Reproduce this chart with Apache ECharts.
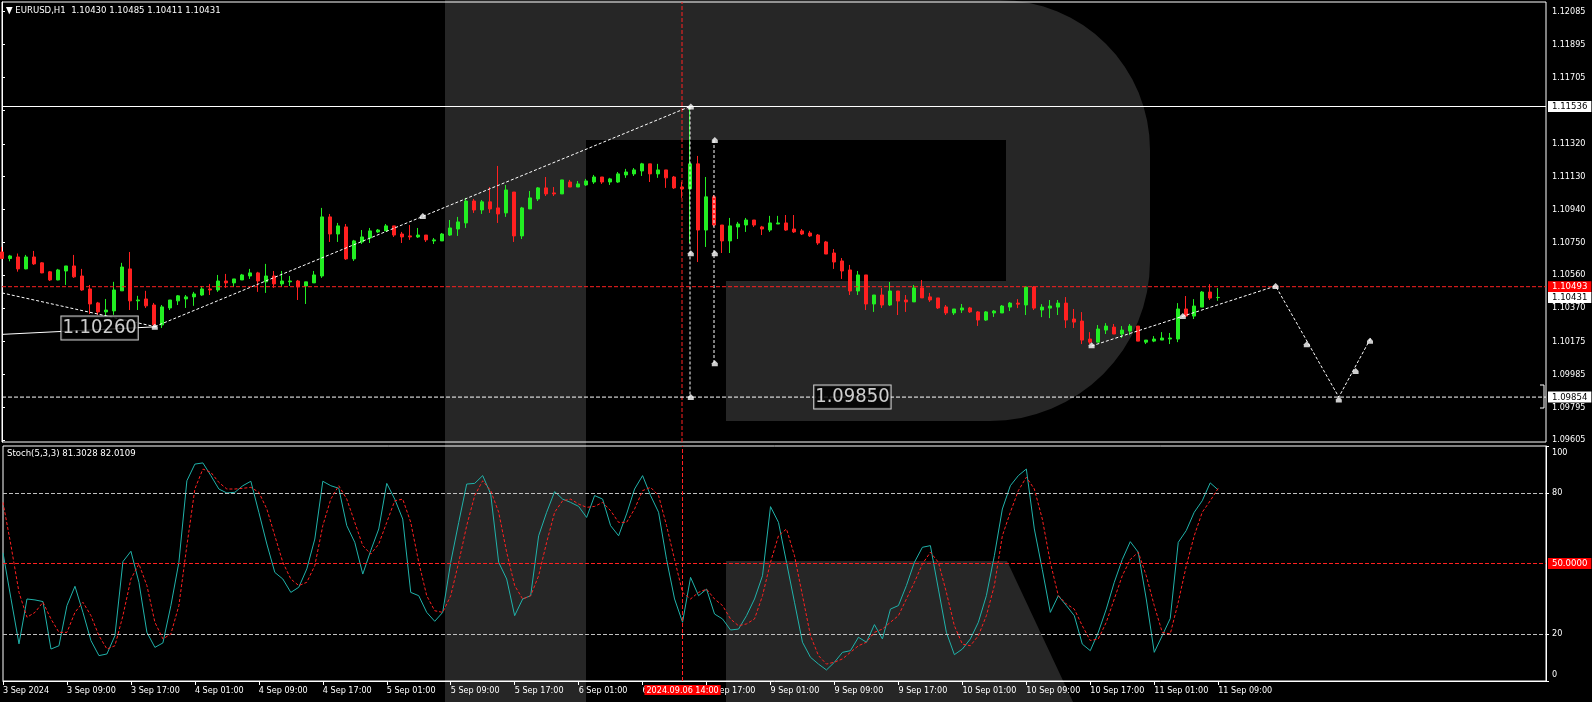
<!DOCTYPE html>
<html><head><meta charset="utf-8">
<script src="https://cdn.jsdelivr.net/npm/echarts@6/dist/echarts.min.js"></script>
<style>html,body{margin:0;padding:0;background:#000;}#c{width:1592px;height:702px;}</style>
</head><body><div id="c"></div>
<script>
const FONT = "'DejaVu Sans Condensed','Liberation Sans',sans-serif";
const FS = 9;
const dayNames = ['3 Sep','4 Sep','5 Sep','6 Sep','9 Sep','10 Sep','11 Sep','12 Sep','13 Sep'];
const categories = [];
dayNames.forEach((d, k) => { for (let h = (k === 0 ? 1 : 0); h < 24; h++) categories.push(d + ' ' + String(h).padStart(2, '0') + ':00'); });
categories.length = 194;
const lastLabelIndex = 152;
const lastSlot = categories.length - 1;

const open = [
1.10694,1.10656,1.10665,1.10596,1.10665,1.10631,1.10579,1.10532,1.10584,1.10613,
1.10555,1.10480,1.10399,1.10347,1.10353,1.10469,1.10596,1.10411,1.10422,1.10387,
1.10272,1.10370,1.10411,1.10422,1.10434,1.10445,1.10480,1.10474,1.10526,1.10515,
1.10532,1.10555,1.10573,1.10521,1.10555,1.10509,1.10521,1.10526,1.10497,1.10515,
1.10555,1.10897,1.10798,1.10839,1.10654,1.10752,1.10775,1.10810,1.10816,1.10845,
1.10798,1.10787,1.10781,1.10792,1.10758,1.10758,1.10792,1.10827,1.10862,1.10989,
1.10937,1.10984,1.10949,1.10920,1.11041,1.10787,1.10943,1.11001,1.11065,1.11036,
1.11030,1.11099,1.11070,1.11082,1.11099,1.11128,1.11099,1.11099,1.11140,1.11146,
1.11163,1.11204,1.11146,1.11169,1.11128,1.11070,1.11059,1.11204,1.10821,1.11013,
1.10850,1.10758,1.10839,1.10850,1.10879,1.10839,1.10821,1.10856,1.10862,1.10827,
1.10816,1.10804,1.10792,1.10752,1.10688,1.10642,1.10590,1.10468,1.10561,1.10393,
1.10445,1.10387,1.10468,1.10416,1.10405,1.10486,1.10434,1.10428,1.10376,1.10341,
1.10358,1.10370,1.10347,1.10300,1.10341,1.10341,1.10375,1.10398,1.10387,1.10491,
1.10358,1.10369,1.10375,1.10398,1.10306,1.10294,1.10190,1.10172,1.10242,1.10259,
1.10219,1.10236,1.10265,1.10172,1.10178,1.10184,1.10190,1.10190,1.10364,1.10323,
1.10375,1.10462,1.10430];
const high = [
1.10723,1.10677,1.10685,1.10677,1.10700,1.10635,1.10584,1.10596,1.10613,1.10677,
1.10596,1.10503,1.10405,1.10422,1.10521,1.10631,1.10694,1.10440,1.10469,1.10399,
1.10387,1.10416,1.10445,1.10445,1.10463,1.10497,1.10509,1.10561,1.10567,1.10538,
1.10567,1.10596,1.10579,1.10625,1.10584,1.10584,1.10555,1.10532,1.10521,1.10584,
1.10949,1.10914,1.10862,1.10856,1.10764,1.10821,1.10833,1.10827,1.10856,1.10845,
1.10810,1.10850,1.10833,1.10792,1.10775,1.10804,1.10879,1.10897,1.11007,1.11001,
1.10995,1.11070,1.11192,1.11082,1.11041,1.10955,1.11047,1.11070,1.11128,1.11070,
1.11111,1.11111,1.11105,1.11117,1.11140,1.11128,1.11123,1.11157,1.11175,1.11180,
1.11210,1.11204,1.11204,1.11169,1.11134,1.11099,1.11536,1.11250,1.11128,1.11024,
1.10850,1.10891,1.10868,1.10891,1.10879,1.10845,1.10903,1.10903,1.10908,1.10908,
1.10827,1.10816,1.10798,1.10758,1.10711,1.10659,1.10619,1.10584,1.10561,1.10445,
1.10486,1.10520,1.10468,1.10445,1.10503,1.10532,1.10457,1.10428,1.10387,1.10364,
1.10393,1.10376,1.10352,1.10352,1.10358,1.10387,1.10404,1.10421,1.10497,1.10497,
1.10392,1.10416,1.10416,1.10433,1.10364,1.10346,1.10230,1.10271,1.10282,1.10277,
1.10265,1.10277,1.10265,1.10184,1.10207,1.10230,1.10225,1.10398,1.10439,1.10421,
1.10468,1.10508,1.10485];
const low = [
1.10656,1.10640,1.10580,1.10594,1.10619,1.10571,1.10526,1.10530,1.10503,1.10544,
1.10469,1.10335,1.10330,1.10324,1.10330,1.10469,1.10358,1.10358,1.10370,1.10266,
1.10254,1.10358,1.10387,1.10370,1.10382,1.10440,1.10445,1.10463,1.10486,1.10492,
1.10532,1.10538,1.10463,1.10457,1.10486,1.10492,1.10497,1.10416,1.10393,1.10515,
1.10544,1.10752,1.10752,1.10648,1.10642,1.10740,1.10746,1.10804,1.10816,1.10781,
1.10746,1.10764,1.10775,1.10752,1.10740,1.10758,1.10787,1.10787,1.10833,1.10920,
1.10914,1.10920,1.10862,1.10897,1.10752,1.10769,1.10943,1.10989,1.11018,1.11018,
1.11030,1.11070,1.11070,1.11076,1.11088,1.11088,1.11082,1.11094,1.11123,1.11134,
1.11134,1.11099,1.11123,1.11065,1.11059,1.11007,1.10744,1.10636,1.10723,1.10840,
1.10688,1.10688,1.10769,1.10810,1.10839,1.10792,1.10810,1.10856,1.10816,1.10804,
1.10792,1.10781,1.10735,1.10682,1.10596,1.10538,1.10445,1.10445,1.10358,1.10347,
1.10370,1.10381,1.10329,1.10347,1.10405,1.10428,1.10405,1.10364,1.10329,1.10329,
1.10341,1.10341,1.10266,1.10295,1.10318,1.10341,1.10352,1.10369,1.10329,1.10358,
1.10317,1.10311,1.10329,1.10254,1.10254,1.10161,1.10161,1.10172,1.10219,1.10219,
1.10196,1.10213,1.10178,1.10161,1.10172,1.10184,1.10161,1.10172,1.10317,1.10306,
1.10375,1.10416,1.10411];
const close = [
1.10656,1.10671,1.10596,1.10665,1.10625,1.10573,1.10532,1.10590,1.10613,1.10550,
1.10474,1.10393,1.10347,1.10358,1.10474,1.10607,1.10411,1.10416,1.10382,1.10272,
1.10376,1.10416,1.10440,1.10434,1.10451,1.10480,1.10474,1.10526,1.10515,1.10538,
1.10561,1.10573,1.10526,1.10555,1.10509,1.10526,1.10526,1.10492,1.10521,1.10561,
1.10897,1.10798,1.10845,1.10654,1.10758,1.10781,1.10816,1.10821,1.10845,1.10792,
1.10781,1.10781,1.10792,1.10764,1.10764,1.10798,1.10833,1.10868,1.10989,1.10937,
1.10984,1.10943,1.10914,1.11053,1.10787,1.10949,1.11007,1.11065,1.11030,1.11030,
1.11111,1.11070,1.11088,1.11105,1.11128,1.11099,1.11117,1.11146,1.11157,1.11169,
1.11204,1.11146,1.11169,1.11123,1.11065,1.11059,1.11204,1.10821,1.11013,1.10850,
1.10758,1.10845,1.10856,1.10879,1.10850,1.10827,1.10862,1.10862,1.10821,1.10810,
1.10798,1.10787,1.10746,1.10682,1.10636,1.10584,1.10468,1.10561,1.10393,1.10445,
1.10387,1.10468,1.10410,1.10405,1.10486,1.10428,1.10416,1.10370,1.10341,1.10364,
1.10370,1.10347,1.10300,1.10347,1.10352,1.10381,1.10398,1.10392,1.10491,1.10369,
1.10375,1.10381,1.10398,1.10300,1.10288,1.10184,1.10172,1.10248,1.10265,1.10219,
1.10242,1.10265,1.10178,1.10184,1.10190,1.10196,1.10196,1.10364,1.10323,1.10381,
1.10462,1.10427,1.10431];

const stochK = [
54.5,35.0,15.8,34.9,34.5,33.8,13.6,15.0,32.1,40.3,
29.2,17.2,10.8,11.5,19.3,50.8,55.2,42.0,20.7,14.3,
16.2,32.1,50.5,85.2,92.3,92.8,87.4,81.7,80.0,80.3,
83.1,85.0,71.8,58.3,46.2,43.4,37.7,39.9,47.7,60.4,
85.0,83.1,82.0,66.1,59.0,45.5,55.5,64.7,84.1,77.4,
68.9,37.7,36.3,29.2,25.4,29.2,50.5,67.5,83.8,84.1,
87.4,79.6,50.5,43.4,27.8,34.9,36.3,61.8,71.8,80.6,
77.4,76.0,74.3,69.6,78.9,77.4,66.1,61.8,71.1,81.7,
87.4,78.9,71.8,51.7,34.9,25.0,44.1,36.3,39.1,28.5,
26.4,21.7,22.1,27.8,34.9,44.8,74.2,67.5,50.5,33.5,
16.5,10.1,7.2,4.7,8.0,12.2,12.9,18.6,16.5,24.0,
17.9,30.6,32.1,40.6,50.5,56.9,57.6,39.1,20.7,11.2,
13.6,17.9,25.0,36.3,53.3,73.2,83.1,87.4,90.2,64.7,
47.4,29.2,36.3,32.1,27.8,15.7,12.9,20.7,30.6,42.0,
51.7,59.3,54.8,34.9,12.2,19.3,26.6,59.0,64.0,71.8,
76.7,84.3,81.3];
const stochD = [
76.0,57.6,37.7,27.1,29.2,33.5,26.4,20.7,20.7,29.2,
33.5,27.8,19.3,13.6,15.0,27.8,43.4,49.8,40.6,25.0,
17.9,20.0,32.1,57.6,81.7,90.2,88.8,84.5,81.7,81.7,
82.0,82.4,80.3,73.2,61.8,50.5,43.4,40.6,42.0,49.1,
66.1,77.4,83.1,77.4,67.5,57.6,54.0,58.3,67.5,76.7,
77.4,67.5,50.5,36.3,29.9,29.2,36.3,50.5,66.1,78.9,
85.2,81.0,71.8,54.8,40.6,34.9,36.3,44.8,59.0,71.8,
76.7,77.4,75.3,73.9,74.3,76.0,72.5,67.5,67.5,73.2,
81.0,82.4,78.9,66.1,51.7,37.7,34.9,37.7,39.1,34.9,
32.1,26.4,23.5,24.3,26.4,36.3,50.5,61.8,64.7,53.3,
36.3,19.3,10.8,7.2,8.0,9.4,12.2,15.0,16.5,20.7,
22.1,25.0,27.8,34.9,42.0,49.8,54.8,50.5,37.7,23.5,
15.7,15.0,19.3,27.8,40.6,61.8,71.8,81.0,86.7,81.7,
68.9,50.5,36.3,32.8,30.6,23.5,17.2,17.9,25.0,34.9,
44.8,51.7,54.8,44.8,32.1,20.7,20.0,33.5,48.9,61.8,
71.8,76.7,82.0];

const priceTicks = [1.12085,1.11895,1.11705,1.11515,1.11320,1.11130,1.10940,1.10750,1.10560,1.10370,1.10175,1.09985,1.09795,1.09605];
const stochTicks = [0, 20, 80, 100];
const priceMin = 1.09594, priceMax = 1.12141;

// drawn analysis objects (bar position, price)
const trendLeft = [[0, 1.10457], [19.1, 1.10262]];
const trendRise = [[19.1, 1.10262], [86, 1.11536]];
const vertical1 = [[86, 1.11536], [86, 1.09854]];
const vertical2 = [[89, 1.11342], [89, 1.10050]];
const forecast = [[136.2, 1.10150], [159.2, 1.10497], [167.1, 1.09854], [171.1, 1.10196]];
const leaderLine = [[0, 1.10217], [19.3, 1.10261]];
const arrowMarks = [[19.1,1.10261],[52.6,1.10902],[86.1,1.11536],[86.1,1.10686],[86.1,1.09854],[89.1,1.11342],[89.1,1.10686],[89.1,1.10050],
  [136.2,1.10154],[147.6,1.10323],[159.2,1.10497],[163.1,1.10160],[167.1,1.09840],[169.2,1.10005],[171.0,1.10180]];
const priceTexts = [{value:[12.2, 1.10254], name:'1.10260'}, {value:[106.3, 1.09854], name:'1.09850'}];
const levelHigh = 1.11536, crossPrice = 1.10493, bidPrice = 1.10431, levelLow = 1.09854;
const crossIndex = 85;

const candleData = open.map((o, i) => [o, close[i], low[i], high[i]]);

function arcPts(cx, cy, r, a0, a1, n) {
  const p = [];
  for (let k = 0; k <= n; k++) { const a = (a0 + (a1 - a0) * k / n) * Math.PI / 180; p.push([cx + r * Math.cos(a), cy + r * Math.sin(a)]); }
  return p;
}
const GRAY = '#262626';
const bowl = [[586,0],[1000,0]].concat(arcPts(1000,150,150,-90,0,16)).concat(arcPts(990,261,160,0,90,16))
  .concat([[726,421],[726,281],[1006,281],[1006,140],[586,140]]);

const chart = echarts.init(document.getElementById('c'), null, {renderer: 'canvas'});
const dashW = {color: '#fff', width: 1, type: [3, 2]};
const lineS = (data, style, extra) => Object.assign({type:'line', xAxisIndex:2, yAxisIndex:0, data, showSymbol:false, symbol:'none', lineStyle:style, silent:true, z:4}, extra || {});
const endBox = (txt, bg, fg) => ({show:true, formatter:txt, color:fg, backgroundColor:bg, padding:[1,4,0,4], fontSize:9.5, fontFamily:FONT, distance:2});
const level = (v, style, txt, bg, fg) => lineS([[0, v], [lastSlot, v]], style, txt ? {endLabel: endBox(txt, bg, fg), z:6} : {});

chart.setOption({
  animation: false,
  backgroundColor: '#000',
  graphic: [
    {type:'rect', z:-5, silent:true, shape:{x:445, y:0, width:141, height:702}, style:{fill:GRAY}},
    {type:'polygon', z:-5, silent:true, shape:{points:bowl}, style:{fill:GRAY}},
    {type:'polygon', z:-5, silent:true, shape:{points:[[726,561],[1007,561],[1073,702],[726,702]]}, style:{fill:GRAY}},
    {type:'text', z:50, x:6, y:11, style:{text:'\u25BC EURUSD,H1  1.10430 1.10485 1.10411 1.10431', fill:'#fff', font:'9.5px ' + FONT, verticalAlign:'middle'}},
    {type:'text', z:50, x:7, y:454, style:{text:'Stoch(5,3,3) 81.3028 82.0109', fill:'#fff', font:'9.5px ' + FONT, verticalAlign:'middle'}},
    {type:'polyline', z:50, silent:true, shape:{points:[[1540,385],[1544,385],[1544,408],[1540,408]]}, style:{stroke:'#fff', lineWidth:1, fill:null}}
  ],
  grid: [
    {left:2, top:2, width:1544, height:440, show:true, borderColor:'#fff', borderWidth:1, backgroundColor:'rgba(0,0,0,0)'},
    {left:2, top:446, width:1544, height:235, show:true, borderColor:'#fff', borderWidth:1, backgroundColor:'rgba(0,0,0,0)'}
  ],
  xAxis: [
    {type:'category', gridIndex:0, data:categories, boundaryGap:false, show:false},
    {type:'category', gridIndex:1, data:categories, boundaryGap:false,
      axisLine:{show:true, lineStyle:{color:'#fff'}},
      axisTick:{show:true, length:4, lineStyle:{color:'#fff'}, interval:(i) => i % 8 === 0 && i <= lastLabelIndex},
      axisLabel:{show:true, color:'#fff', fontSize:FS, fontFamily:FONT, align:'left', margin:5, hideOverlap:false,
        interval:(i) => i % 8 === 0 && i <= lastLabelIndex,
        formatter:(v, i) => i === 0 ? '3 Sep 2024' : v},
      splitLine:{show:false}},
    {type:'value', gridIndex:0, min:0, max:lastSlot, show:false}
  ],
  yAxis: [
    {type:'value', gridIndex:0, position:'right', min:priceMin, max:priceMax,
      axisLine:{show:true, lineStyle:{color:'#fff'}},
      axisTick:{show:true, length:3, lineStyle:{color:'#fff'}, customValues:priceTicks},
      axisLabel:{show:true, color:'#fff', fontSize:FS, fontFamily:FONT, margin:6, customValues:priceTicks, formatter:(v) => v.toFixed(5)},
      splitLine:{show:false}},
    {type:'value', gridIndex:1, position:'right', min:0, max:100,
      axisLine:{show:true, lineStyle:{color:'#fff'}},
      axisTick:{show:true, length:3, lineStyle:{color:'#fff'}, customValues:stochTicks},
      axisLabel:{show:true, color:'#fff', fontSize:FS, fontFamily:FONT, margin:6, customValues:stochTicks,
        formatter:(v) => v === 100 ? '{d|100}' : (v === 0 ? '{u|0}' : String(v)),
        rich:{d:{color:'#fff', fontSize:FS, fontFamily:FONT, padding:[13,0,0,0]}, u:{color:'#fff', fontSize:FS, fontFamily:FONT, padding:[0,0,13,0]}}},
      splitLine:{show:false}}
  ],
  series: [
    level(levelHigh, {color:'#fff', width:1, type:'solid'}, '1.11536', '#fff', '#000'),
    level(crossPrice, {color:'#ff2020', width:1, type:[4,2]}, '1.10493', '#f00', '#fff'),
    level(bidPrice, {opacity:0}, '1.10431', '#fff', '#000'),
    level(levelLow, {color:'#fff', width:1, type:[4,2]}, '1.09854', '#fff', '#000'),
    lineS([[crossIndex, priceMin], [crossIndex, priceMax]], {color:'#ff2020', width:1, type:[4,2]}),
    {type:'candlestick', xAxisIndex:0, yAxisIndex:0, data:candleData, barWidth:4, z:3,
      itemStyle:{color:'#22ee22', color0:'#ff2020', borderColor:'#22ee22', borderColor0:'#ff2020', borderWidth:1}},
    lineS(trendLeft, dashW),
    lineS(trendRise, dashW),
    lineS(vertical1, dashW),
    lineS(vertical2, dashW),
    lineS(forecast, dashW),
    lineS(leaderLine, {color:'#fff', width:1, type:'solid'}),
    {type:'scatter', xAxisIndex:2, yAxisIndex:0, data:arrowMarks, symbol:'path://M3,0 L6,3 L6,6 L0,6 L0,3 Z', symbolSize:6, itemStyle:{color:'#fff'}, silent:true, z:6},
    {type:'scatter', xAxisIndex:2, yAxisIndex:0, data:priceTexts, symbolSize:0, silent:true, z:7,
      label:{show:true, position:'inside', formatter:'{b}', color:'#fff', fontSize:20, fontFamily:FONT, backgroundColor:'#000', borderColor:'#fff', borderWidth:1, padding:[2,1,1,1]}},
    {type:'line', xAxisIndex:1, yAxisIndex:1, data:stochK, showSymbol:false, symbol:'none', lineStyle:{color:'#20b2aa', width:1}, z:4, silent:true},
    {type:'line', xAxisIndex:1, yAxisIndex:1, data:stochD, showSymbol:false, symbol:'none', lineStyle:{color:'#ff2020', width:1, type:[3,2]}, z:5, silent:true,
      markLine:{silent:true, symbol:['none','none'], animation:false,
        data:[
          {yAxis:80, lineStyle:{color:'#c0c0c0', width:1, type:[4,2]}, label:{show:false}},
          {yAxis:20, lineStyle:{color:'#c0c0c0', width:1, type:[4,2]}, label:{show:false}},
          {yAxis:50, lineStyle:{color:'#ff2020', width:1, type:[4,2]}, label:{show:true, position:'end', formatter:'50.0000', color:'#fff', backgroundColor:'#f00', padding:[1,4,0,4], fontSize:9.5, fontFamily:FONT, distance:2}},
          {xAxis:categories[crossIndex], lineStyle:{color:'#ff2020', width:1, type:[4,2]},
            label:{show:true, position:'start', formatter:'2024.09.06 14:00', color:'#fff', backgroundColor:'#f00', padding:[1,2,0,2], fontSize:FS, fontFamily:FONT, distance:4}}
        ]}}
  ]
});
</script>
</body></html>
